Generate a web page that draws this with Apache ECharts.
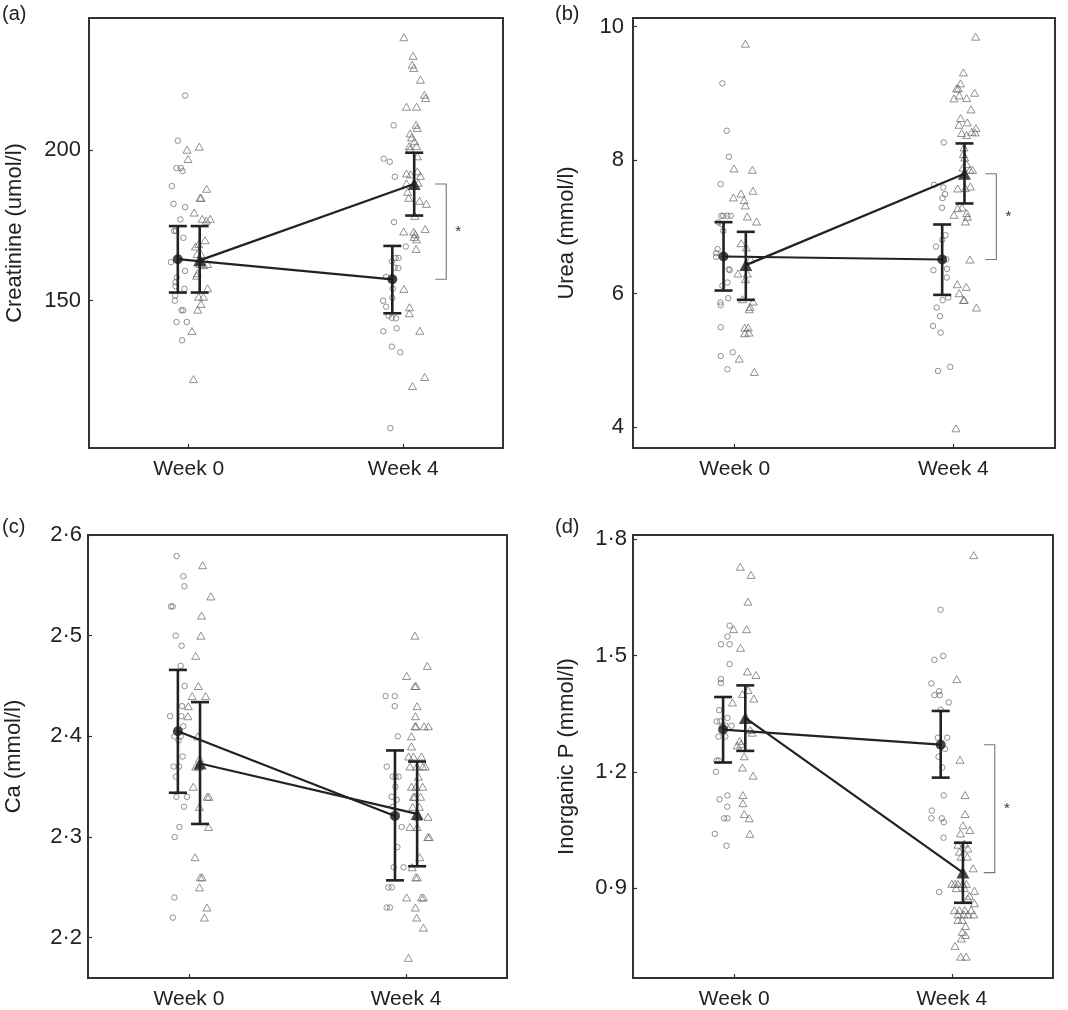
<!DOCTYPE html>
<html><head><meta charset="utf-8">
<script src="https://cdn.jsdelivr.net/npm/echarts@6/dist/echarts.min.js"></script>
<style>html,body{margin:0;padding:0;background:#fff}#c{width:1068px;height:1010px}</style>
</head><body><div id="c"></div><script>
const weeks = ['Week 0', 'Week 4'];

// ---------- Panel (a) Creatinine ----------
const aTicks = [150, 200];
const aCircW0 = [218.2,203.2,194.1,194.1,193.1,188.1,182.2,181.1,177.0,173.2,173.2,170.9,162.8,159.9,157.7,156.1,154.8,153.9,151.7,150.0,146.8,146.8,142.9,142.9,136.8];
const aCircW0Jit = [-0.017,-0.051,-0.057,-0.037,-0.029,-0.079,-0.071,-0.017,-0.039,-0.068,-0.060,-0.025,-0.083,-0.017,-0.056,-0.062,-0.062,-0.020,-0.063,-0.065,-0.034,-0.026,-0.057,-0.009,-0.031];
const aTriW0 = [200.2,201.2,197.1,187.2,184.2,184.2,179.3,177.2,177.2,176.6,170.1,168.0,168.8,165.5,165.5,162.2,162.2,161.8,159.1,158.3,154.1,151.3,151.3,148.9,147.0,139.9,123.9];
const aTriW0Jit = [-0.008,0.049,-0.003,0.083,0.053,0.057,0.025,0.063,0.100,0.082,0.076,0.031,0.046,0.039,0.057,0.051,0.088,0.070,0.040,0.037,0.088,0.046,0.068,0.057,0.042,0.015,0.022];
const aCircW4 = [208.3,197.2,196.2,191.2,176.1,168.0,164.2,164.2,163.1,161.0,160.8,157.9,157.0,154.0,150.9,150.0,148.0,145.0,144.3,144.1,140.8,139.8,134.7,132.8,107.6];
const aCircW4Jit = [-0.045,-0.091,-0.063,-0.039,-0.043,0.012,-0.036,-0.022,-0.053,-0.039,-0.023,-0.080,-0.049,-0.049,-0.051,-0.094,-0.080,-0.068,-0.053,-0.034,-0.031,-0.093,-0.053,-0.014,-0.060];
const aTriW4 = [237.6,231.4,228.5,227.4,223.5,218.5,217.4,214.5,214.5,208.5,207.4,205.6,204.3,203.0,201.4,201.4,200.5,198.0,192.3,192.0,193.0,191.5,189.0,189.2,186.2,184.2,183.2,182.2,178.2,173.8,173.0,172.9,172.1,171.2,170.4,167.2,153.9,147.8,145.8,140.0,124.6,121.6];
const aTriW4Jit = [0.003,0.046,0.042,0.049,0.080,0.099,0.104,0.015,0.062,0.060,0.065,0.032,0.039,0.053,0.028,0.062,0.031,0.066,0.015,0.034,0.066,0.080,0.015,0.070,0.020,0.025,0.076,0.108,0.054,0.102,0.002,0.049,0.056,0.051,0.062,0.060,0.003,0.029,0.028,0.077,0.100,0.043];
const aCircMean = [163.8, 157.1], aCircLo = [152.7, 145.8], aCircHi = [174.8, 168.2];
const aTriMean = [163.4, 188.8], aTriLo = [152.7, 178.3], aTriHi = [174.8, 199.2];

// ---------- Panel (b) Urea ----------
const bTicks = [4, 6, 8, 10];
const bCircW0 = [9.15,8.44,8.05,7.64,7.165,7.165,7.165,7.165,7.065,7.04,6.94,6.665,6.605,6.55,6.365,6.35,6.165,6.115,5.93,5.865,5.825,5.495,5.065,5.12,4.865];
const bCircW0Jit = [-0.056,-0.036,-0.026,-0.064,-0.061,-0.052,-0.033,-0.018,-0.073,-0.059,-0.052,-0.078,-0.084,-0.085,-0.027,-0.023,-0.033,-0.056,-0.030,-0.065,-0.064,-0.064,-0.064,-0.009,-0.033];
const bTriW0 = [9.745,7.875,7.855,7.54,7.5,7.44,7.4,7.32,7.155,7.08,6.755,6.69,6.515,6.3,6.3,6.215,5.915,5.88,5.8,5.765,5.49,5.49,5.405,5.415,5.025,4.825];
const bTriW0Jit = [0.049,-0.003,0.081,0.084,0.029,-0.006,0.043,0.049,0.058,0.100,0.030,0.053,0.073,0.015,0.058,0.049,0.036,0.085,0.070,0.067,0.046,0.062,0.046,0.065,0.021,0.090];
const bCircW4 = [8.265,7.63,7.59,7.49,7.43,7.285,6.875,6.805,6.705,6.515,6.37,6.35,6.24,5.94,5.9,5.79,5.66,5.515,5.415,4.9,4.84];
const bCircW4Jit = [-0.044,-0.088,-0.046,-0.038,-0.050,-0.052,-0.036,-0.050,-0.079,-0.032,-0.029,-0.091,-0.030,-0.023,-0.049,-0.076,-0.061,-0.093,-0.058,-0.014,-0.070];
const bTriW4 = [9.85,9.315,9.15,9.075,9.075,9.01,8.97,8.925,8.93,8.76,8.63,8.565,8.53,8.48,8.425,8.415,8.405,8.375,8.19,8.09,8.04,7.94,7.89,7.855,7.855,7.605,7.58,7.575,7.29,7.28,7.205,7.18,7.15,7.08,6.51,6.14,6.1,6.005,5.905,5.905,5.79,3.98];
const bTriW4Jit = [0.102,0.046,0.033,0.015,0.023,0.097,0.027,0.003,0.061,0.081,0.033,0.064,0.026,0.103,0.084,0.100,0.038,0.061,0.049,0.046,0.052,0.061,0.044,0.076,0.088,0.078,0.055,0.020,0.040,0.020,0.061,0.003,0.064,0.055,0.076,0.018,0.059,0.027,0.046,0.050,0.106,0.012];
const bCircMean = [6.555, 6.51], bCircLo = [6.045, 5.98], bCircHi = [7.07, 7.035];
const bTriMean = [6.426, 7.795], bTriLo = [5.906, 7.35], bTriHi = [6.925, 8.25];

// ---------- Panel (c) Ca ----------
const cTicks = [2.2, 2.3, 2.4, 2.5, 2.6];
const cCircW0 = [2.579,2.559,2.549,2.529,2.529,2.50,2.49,2.47,2.45,2.43,2.42,2.42,2.41,2.40,2.40,2.396,2.38,2.37,2.37,2.36,2.34,2.34,2.33,2.31,2.30,2.24,2.22];
const cCircW0Jit = [-0.057,-0.026,-0.021,-0.083,-0.075,-0.061,-0.034,-0.038,-0.020,-0.032,-0.035,-0.087,-0.026,-0.067,-0.038,-0.048,-0.029,-0.071,-0.046,-0.060,-0.058,-0.009,-0.023,-0.044,-0.066,-0.067,-0.074];
const cTriW0 = [2.57,2.539,2.52,2.50,2.48,2.45,2.44,2.44,2.43,2.42,2.40,2.378,2.37,2.37,2.35,2.34,2.34,2.33,2.31,2.28,2.26,2.26,2.25,2.23,2.22];
const cTriW0Jit = [0.063,0.101,0.058,0.055,0.031,0.043,0.015,0.077,-0.003,-0.005,0.040,0.049,0.031,0.046,0.020,0.084,0.092,0.048,0.090,0.028,0.052,0.061,0.049,0.083,0.071];
const cCircW4 = [2.44,2.44,2.43,2.40,2.37,2.36,2.36,2.36,2.35,2.34,2.337,2.33,2.31,2.29,2.27,2.27,2.25,2.25,2.23,2.23];
const cCircW4Jit = [-0.094,-0.052,-0.052,-0.038,-0.089,-0.061,-0.048,-0.034,-0.049,-0.066,-0.043,-0.061,-0.020,-0.040,-0.057,-0.012,-0.081,-0.066,-0.089,-0.074];
const cTriW4 = [2.50,2.47,2.46,2.45,2.45,2.43,2.42,2.41,2.41,2.41,2.41,2.40,2.39,2.38,2.38,2.38,2.37,2.37,2.37,2.37,2.36,2.35,2.35,2.35,2.34,2.34,2.34,2.33,2.33,2.32,2.32,2.31,2.31,2.30,2.30,2.28,2.27,2.26,2.26,2.24,2.24,2.24,2.23,2.22,2.21,2.18];
const cTriW4Jit = [0.041,0.098,0.003,0.040,0.046,0.051,0.043,0.041,0.046,0.083,0.103,0.025,0.025,0.012,0.034,0.071,0.018,0.049,0.077,0.089,0.057,0.025,0.046,0.077,0.034,0.040,0.067,0.031,0.061,0.054,0.101,0.018,0.051,0.100,0.107,0.063,0.028,0.044,0.052,0.003,0.071,0.080,0.043,0.049,0.080,0.011];
const cCircMean = [2.405, 2.321], cCircLo = [2.344, 2.257], cCircHi = [2.466, 2.386];
const cTriMean = [2.373, 2.323], cTriLo = [2.313, 2.271], cTriHi = [2.434, 2.375];

// ---------- Panel (d) Inorganic P ----------
const dTicks = [0.9, 1.2, 1.5, 1.8];
const dCircW0 = [1.577,1.549,1.529,1.529,1.478,1.439,1.429,1.359,1.339,1.33,1.33,1.319,1.319,1.319,1.291,1.291,1.229,1.229,1.20,1.139,1.129,1.11,1.08,1.08,1.04,1.009];
const dCircW0Jit = [-0.021,-0.031,-0.061,-0.021,-0.021,-0.061,-0.061,-0.069,-0.031,-0.080,-0.064,-0.054,-0.040,-0.012,-0.072,-0.041,-0.081,-0.071,-0.084,-0.031,-0.067,-0.032,-0.046,-0.031,-0.089,-0.035];
const dTriW0 = [1.729,1.708,1.639,1.568,1.568,1.52,1.459,1.45,1.411,1.401,1.389,1.379,1.308,1.301,1.28,1.272,1.268,1.24,1.211,1.19,1.14,1.119,1.091,1.08,1.04];
const dTriW0Jit = [0.028,0.077,0.063,-0.003,0.057,0.029,0.061,0.100,0.064,0.038,0.090,-0.008,0.074,0.083,0.025,0.031,0.014,0.046,0.038,0.087,0.040,0.040,0.046,0.069,0.072];
const dCircW4 = [1.618,1.499,1.489,1.428,1.408,1.398,1.398,1.379,1.36,1.288,1.288,1.259,1.239,1.211,1.139,1.10,1.08,1.08,1.07,1.03,0.89];
const dCircW4Jit = [-0.052,-0.040,-0.080,-0.094,-0.058,-0.080,-0.055,-0.014,-0.051,-0.021,-0.064,-0.031,-0.061,-0.044,-0.037,-0.092,-0.094,-0.046,-0.037,-0.038,-0.058];
const dTriW4 = [1.759,1.439,1.231,1.14,1.091,1.062,1.05,1.041,1.015,1.012,1.002,0.994,0.981,0.981,0.951,0.911,0.911,0.911,0.911,0.911,0.90,0.90,0.893,0.88,0.873,0.861,0.843,0.843,0.843,0.843,0.832,0.832,0.832,0.832,0.818,0.818,0.802,0.787,0.779,0.77,0.751,0.723,0.723];
const dTriW4Jit = [0.101,0.023,0.038,0.061,0.061,0.051,0.083,0.040,0.058,0.028,0.074,0.035,0.071,0.043,0.098,0.000,0.015,0.028,0.051,0.067,0.020,0.058,0.104,0.081,0.074,0.104,0.012,0.035,0.060,0.089,0.028,0.055,0.074,0.101,0.028,0.048,0.063,0.048,0.063,0.044,0.015,0.041,0.066];
const dCircMean = [1.309, 1.27], dCircLo = [1.224, 1.185], dCircHi = [1.393, 1.357];
const dTriMean = [1.339, 0.94], dTriLo = [1.254, 0.862], dTriHi = [1.423, 1.017];

// ---------- layout / style (not data) ----------
const FONT = '"Liberation Sans", Arial, Helvetica, sans-serif';
const TXT = '#222';
const PT = '#666';
const GROUP_OFF = 0.051;

const panels = [
  { tag: '(a)', yName: 'Creatinine (umol/l)', min: 101, max: 244, ticks: aTicks, grid: {left: 89, top: 18, width: 414, height: 430}, nameGap: 63, labelMargin: 8, tagPos: [2, 4],
    circ: [[aCircW0, aCircW0Jit], [aCircW4, aCircW4Jit]], tri: [[aTriW0, aTriW0Jit], [aTriW4, aTriW4Jit]],
    cm: aCircMean, cl: aCircLo, ch: aCircHi, tm: aTriMean, tl: aTriLo, th: aTriHi, sig: true },
  { tag: '(b)', yName: 'Urea (mmol/l)', min: 3.685, max: 10.13, ticks: bTicks, grid: {left: 633, top: 18, width: 422, height: 430}, nameGap: 55, labelMargin: 9, tagPos: [555, 4],
    circ: [[bCircW0, bCircW0Jit], [bCircW4, bCircW4Jit]], tri: [[bTriW0, bTriW0Jit], [bTriW4, bTriW4Jit]],
    cm: bCircMean, cl: bCircLo, ch: bCircHi, tm: bTriMean, tl: bTriLo, th: bTriHi, sig: true },
  { tag: '(c)', yName: 'Ca (mmol/l)', min: 2.16, max: 2.6, ticks: cTicks, grid: {left: 88, top: 535, width: 419, height: 443}, nameGap: 63, labelMargin: 6, tagPos: [2, 517],
    circ: [[cCircW0, cCircW0Jit], [cCircW4, cCircW4Jit]], tri: [[cTriW0, cTriW0Jit], [cTriW4, cTriW4Jit]],
    cm: cCircMean, cl: cCircLo, ch: cCircHi, tm: cTriMean, tl: cTriLo, th: cTriHi, sig: false },
  { tag: '(d)', yName: 'Inorganic P (mmol/l)', min: 0.668, max: 1.811, ticks: dTicks, grid: {left: 633, top: 535, width: 420, height: 443}, nameGap: 55, labelMargin: 6, tagPos: [555, 517],
    circ: [[dCircW0, dCircW0Jit], [dCircW4, dCircW4Jit]], tri: [[dTriW0, dTriW0Jit], [dTriW4, dTriW4Jit]],
    cm: dCircMean, cl: dCircLo, ch: dCircHi, tm: dTriMean, tl: dTriLo, th: dTriHi, sig: true }
];

const grids = [], xAxes = [], yAxes = [], series = [], graphics = [];

function errRender(params, api) {
  const x = api.value(0), lo = api.value(1), hi = api.value(2);
  const p1 = api.coord([x, hi]), p2 = api.coord([x, lo]);
  const hw = 9;
  const style = {stroke: '#222', lineWidth: 2.6};
  return {type: 'group', children: [
    {type: 'line', shape: {x1: p1[0], y1: p1[1], x2: p2[0], y2: p2[1]}, style: style},
    {type: 'line', shape: {x1: p1[0] - hw, y1: p1[1], x2: p1[0] + hw, y2: p1[1]}, style: style},
    {type: 'line', shape: {x1: p2[0] - hw, y1: p2[1], x2: p2[0] + hw, y2: p2[1]}, style: style}
  ]};
}

function bracketRender(params, api) {
  const x = api.value(0), y1 = api.value(1), y2 = api.value(2);
  const p1 = api.coord([x, y1]), p2 = api.coord([x, y2]);
  const a = p1[0] + 32, b = p1[0] + 43;
  return {type: 'group', children: [
    {type: 'polyline', shape: {points: [[a, p1[1]], [b, p1[1]], [b, p2[1]], [a, p2[1]]]}, style: {stroke: '#777', lineWidth: 1.1, fill: null}},
    {type: 'text', x: p1[0] + 55, y: (p1[1] + p2[1]) / 2, style: {text: '*', font: '15px ' + FONT, fill: '#333', align: 'center', verticalAlign: 'middle'}}
  ]};
}

panels.forEach((p, i) => {
  grids.push(Object.assign({show: true, borderColor: '#333', borderWidth: 2, backgroundColor: 'transparent'}, p.grid));
  xAxes.push({
    type: 'value', gridIndex: i, min: 0.535, max: 2.465,
    axisLine: {show: true, onZero: false, lineStyle: {color: '#333', width: 2}},
    axisTick: {show: true, inside: true, length: 4, customValues: [1, 2], lineStyle: {color: '#333', width: 1.2}},
    axisLabel: {show: true, customValues: [1, 2], margin: 11, color: TXT, fontSize: 21, fontFamily: FONT,
      formatter: v => weeks[Math.round(v) - 1] || ''},
    splitLine: {show: false}
  });
  yAxes.push({
    type: 'value', gridIndex: i, min: p.min, max: p.max,
    name: p.yName, nameLocation: 'middle', nameGap: p.nameGap,
    nameTextStyle: {color: TXT, fontSize: 22, fontFamily: FONT},
    axisLine: {show: true, onZero: false, lineStyle: {color: '#333', width: 2}},
    axisTick: {show: true, inside: true, length: 4, customValues: p.ticks, lineStyle: {color: '#333', width: 1.2}},
    axisLabel: {show: true, customValues: p.ticks, margin: p.labelMargin, color: TXT, fontSize: 22, fontFamily: FONT,
      formatter: v => String(Math.round(v * 1000) / 1000).replace('.', '\u00b7')},
    splitLine: {show: false}
  });

  // raw points
  const circPts = [], triPts = [];
  [0, 1].forEach(w => {
    const [cv, cj] = p.circ[w];
    cv.forEach((v, k) => circPts.push([w + 1 + cj[k], v]));
    const [tv, tj] = p.tri[w];
    tv.forEach((v, k) => triPts.push([w + 1 + tj[k], v]));
  });
  series.push({type: 'scatter', xAxisIndex: i, yAxisIndex: i, data: circPts, symbol: 'circle', symbolSize: 5.5,
    itemStyle: {color: 'rgba(0,0,0,0)', borderColor: PT, borderWidth: 0.9}, z: 2, silent: true});
  series.push({type: 'scatter', xAxisIndex: i, yAxisIndex: i, data: triPts, symbol: 'triangle', symbolSize: [8, 7],
    itemStyle: {color: 'rgba(0,0,0,0)', borderColor: PT, borderWidth: 0.9}, z: 2, silent: true});

  // mean lines
  series.push({type: 'line', xAxisIndex: i, yAxisIndex: i, data: [[1 - GROUP_OFF, p.cm[0]], [2 - GROUP_OFF, p.cm[1]]],
    symbol: 'none', lineStyle: {color: '#222', width: 2.2}, z: 4, silent: true});
  series.push({type: 'line', xAxisIndex: i, yAxisIndex: i, data: [[1 + GROUP_OFF, p.tm[0]], [2 + GROUP_OFF, p.tm[1]]],
    symbol: 'none', lineStyle: {color: '#222', width: 2.2}, z: 4, silent: true});

  // error bars
  const errData = [0, 1].map(w => [w + 1 - GROUP_OFF, p.cl[w], p.ch[w]])
    .concat([0, 1].map(w => [w + 1 + GROUP_OFF, p.tl[w], p.th[w]]));
  series.push({type: 'custom', xAxisIndex: i, yAxisIndex: i, data: errData, renderItem: errRender, z: 5, silent: true});

  // mean markers
  series.push({type: 'scatter', xAxisIndex: i, yAxisIndex: i, data: [[1 - GROUP_OFF, p.cm[0]], [2 - GROUP_OFF, p.cm[1]]],
    symbol: 'circle', symbolSize: 10, itemStyle: {color: '#1a1a1a'}, z: 6, silent: true});
  series.push({type: 'scatter', xAxisIndex: i, yAxisIndex: i, data: [[1 + GROUP_OFF, p.tm[0]], [2 + GROUP_OFF, p.tm[1]]],
    symbol: 'triangle', symbolSize: [13, 12], itemStyle: {color: '#1a1a1a'}, z: 6, silent: true});

  if (p.sig) {
    series.push({type: 'custom', xAxisIndex: i, yAxisIndex: i, data: [[2, p.cm[1], p.tm[1]]], renderItem: bracketRender, z: 5, silent: true, clip: false});
  }

  graphics.push({type: 'text', left: p.tagPos[0], top: p.tagPos[1], style: {text: p.tag, font: '20px ' + FONT, fill: TXT}});
});

const chart = echarts.init(document.getElementById('c'), null, {renderer: 'canvas'});
chart.setOption({
  animation: false,
  backgroundColor: '#fff',
  grid: grids, xAxis: xAxes, yAxis: yAxes, series: series, graphic: graphics
});
</script></body></html>
